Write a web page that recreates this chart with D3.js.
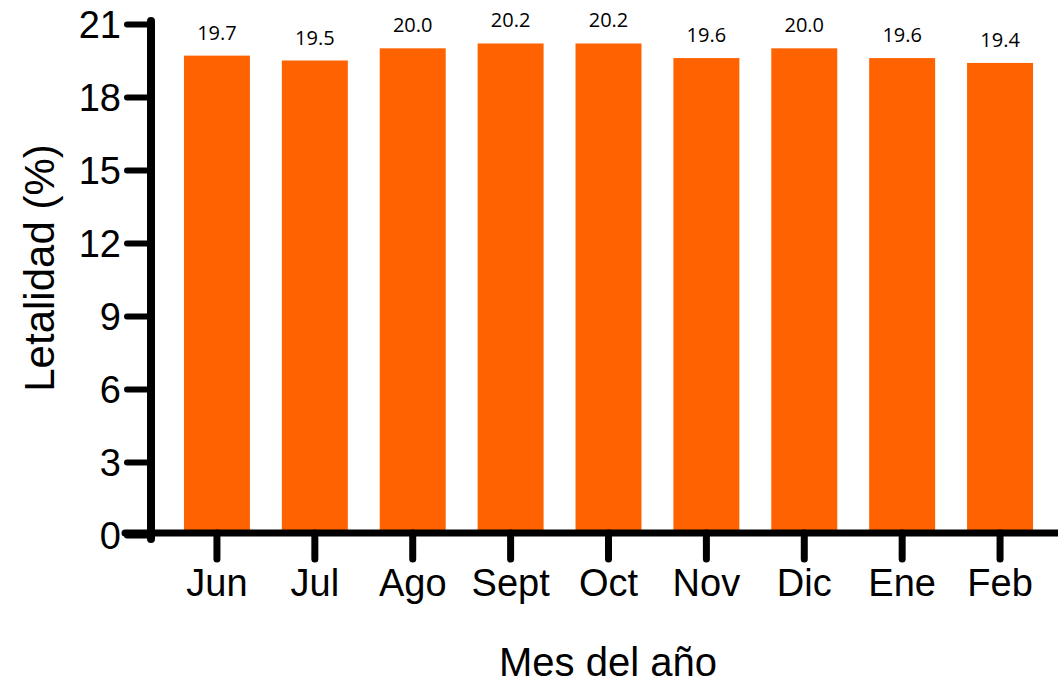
<!DOCTYPE html>
<html>
<head>
<meta charset="utf-8">
<script src="https://cdn.jsdelivr.net/npm/d3@7"></script>
<style>
  html, body { margin: 0; padding: 0; background: #fff; }
  svg { display: block; }
  text { font-family: "Liberation Sans", Arial, sans-serif; fill: #000; }
  .val { font-family: "Open Sans", "Noto Sans", sans-serif; }
</style>
</head>
<body>
<svg id="chart" width="1058" height="685"></svg>
<script>
// datos
let meses = ["Jun", "Jul", "Ago", "Sept", "Oct", "Nov", "Dic", "Ene", "Feb"];
let letalidad = [19.7, 19.5, 20.0, 20.2, 20.2, 19.6, 20.0, 19.6, 19.4];
let yTicks = [0, 3, 6, 9, 12, 15, 18, 21];

let svg = d3.select("#chart");

let x = d3.scaleBand()
  .domain(meses)
  .range([168, 1049])
  .paddingInner(0.326)
  .paddingOuter(0.163);

let y = d3.scaleLinear()
  .domain([0, 21])
  .range([535, 24]);

// barras
svg.append("g")
  .selectAll("rect")
  .data(meses)
  .join("rect")
  .attr("x", (d) => x(d))
  .attr("y", (d, i) => y(letalidad[i]))
  .attr("width", x.bandwidth())
  .attr("height", (d, i) => y(0) - y(letalidad[i]))
  .attr("fill", "#ff6200");

// etiquetas de valor
svg.append("g")
  .selectAll("text")
  .data(meses)
  .join("text")
  .attr("class", "val")
  .attr("x", (d) => x(d) + x.bandwidth() / 2)
  .attr("y", (d, i) => y(letalidad[i]) - 16)
  .attr("text-anchor", "middle")
  .style("font-size", "20px")
  .text((d, i) => letalidad[i].toFixed(1));

// eje y
let yAxis = svg.append("g")
  .attr("transform", "translate(151,0)")
  .call(d3.axisLeft(y).tickValues(yTicks).tickSize(24).tickPadding(6).tickSizeOuter(0));

yAxis.select(".domain").remove();
yAxis.selectAll(".tick line")
  .attr("stroke", "#000")
  .attr("stroke-width", 6)
  .attr("stroke-linecap", "round");
yAxis.selectAll(".tick text")
  .style("font-size", "38px")
  .attr("dy", "0.35em");

// eje x
let xAxis = svg.append("g")
  .attr("transform", "translate(0,533)")
  .call(d3.axisBottom(x).tickSize(26).tickPadding(10).tickSizeOuter(0));

xAxis.select(".domain").remove();
xAxis.selectAll(".tick line")
  .attr("stroke", "#000")
  .attr("stroke-width", 7)
  .attr("stroke-linecap", "round");
xAxis.selectAll(".tick text")
  .style("font-size", "38px")
  .attr("dy", "0.71em");

// líneas de los ejes
svg.append("line")
  .attr("x1", 125).attr("x2", 1058)
  .attr("y1", 533).attr("y2", 533)
  .attr("stroke", "#000")
  .attr("stroke-width", 7)
  .attr("stroke-linecap", "round");

svg.append("line")
  .attr("x1", 151).attr("x2", 151)
  .attr("y1", y(21) - 3).attr("y2", 539)
  .attr("stroke", "#000")
  .attr("stroke-width", 8)
  .attr("stroke-linecap", "round");

// títulos
svg.append("text")
  .attr("transform", "translate(54,268) rotate(-90)")
  .attr("text-anchor", "middle")
  .style("font-size", "42px")
  .text("Letalidad (%)");

svg.append("text")
  .attr("x", 608)
  .attr("y", 676)
  .attr("text-anchor", "middle")
  .style("font-size", "40px")
  .text("Mes del año");
</script>
</body>
</html>
